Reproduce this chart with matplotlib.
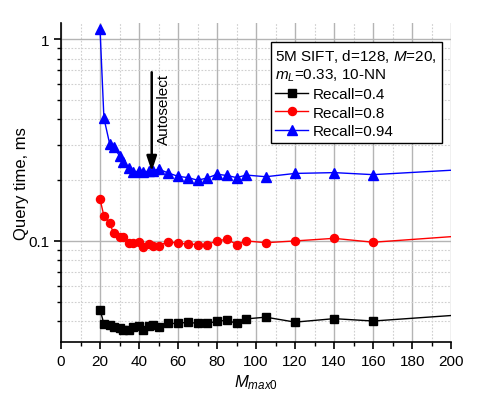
import matplotlib
matplotlib.use("Agg")
import matplotlib.pyplot as plt
from matplotlib.ticker import FixedLocator, LogLocator, NullFormatter, FuncFormatter

plt.rcParams["font.family"] = ["Liberation Sans", "DejaVu Sans"]
plt.rcParams["mathtext.fontset"] = "custom"
plt.rcParams["mathtext.rm"] = "Liberation Sans"
plt.rcParams["mathtext.it"] = "Liberation Sans:italic"

# M_max0 values (last point at 200 is drawn as line only, no marker)
m_max0 = [20, 22, 25, 27, 30, 32, 35, 37, 40, 42, 45, 47, 50, 55, 60, 65, 70, 75,
          80, 85, 90, 95, 105, 120, 140, 160, 200]

recall_04 = [0.0457, 0.0388, 0.0383, 0.0375, 0.0372, 0.0360, 0.0363, 0.0375, 0.0378,
             0.0360, 0.0378, 0.0383, 0.0375, 0.0390, 0.0390, 0.0396, 0.0390, 0.0390,
             0.0400, 0.0405, 0.0390, 0.0411, 0.0419, 0.0396, 0.0412, 0.0401, 0.0427]
recall_08 = [0.161, 0.133, 0.122, 0.109, 0.105, 0.105, 0.098, 0.098, 0.099,
             0.093, 0.0966, 0.0948, 0.0948, 0.099, 0.0975, 0.0965, 0.096, 0.096,
             0.100, 0.102, 0.096, 0.100, 0.098, 0.100, 0.103, 0.0985, 0.105]
recall_094 = [1.12, 0.406, 0.301, 0.292, 0.264, 0.245, 0.229, 0.220, 0.221,
              0.220, 0.221, 0.222, 0.227, 0.217, 0.209, 0.206, 0.200, 0.205,
              0.214, 0.211, 0.206, 0.212, 0.208, 0.216, 0.218, 0.213, 0.224]

series = [
    ("Recall=0.4", recall_04, "black", "s", 5.3),
    ("Recall=0.8", recall_08, "#ff0000", "o", 5.8),
    ("Recall=0.94", recall_094, "#0000ff", "^", 6.5),
]

autoselect_x = 46.5

fig = plt.figure(figsize=(4.92, 4.02), dpi=100)
ax = fig.add_axes([0.124, 0.147, 0.793, 0.793])

marks = list(range(len(m_max0) - 1))
for label, vals, color, marker, ms in series:
    ax.plot(m_max0, vals, color=color, marker=marker, markersize=ms, lw=1.0,
            markevery=marks, label=label)

ax.set_yscale("log")
ax.set_xlim(0, 200)
ax.set_ylim(0.0316, 1.2)

ax.xaxis.set_major_locator(FixedLocator(range(0, 201, 20)))
ax.xaxis.set_minor_locator(FixedLocator(range(10, 200, 20)))
ax.yaxis.set_major_locator(FixedLocator([0.1, 1]))
ax.yaxis.set_major_formatter(FuncFormatter(lambda v, p: "1" if v >= 1 else "0.1"))
ax.yaxis.set_minor_locator(LogLocator(base=10, subs=range(2, 10)))
ax.yaxis.set_minor_formatter(NullFormatter())

ax.grid(which="major", color="#b4b4b4", lw=1.0, ls="-")
ax.grid(which="minor", color="#cfcfcf", lw=0.8, ls=(0, (1.5, 1.5)))
ax.set_axisbelow(True)

for side in ("top", "right"):
    ax.spines[side].set_visible(False)
ax.spines["left"].set_linewidth(1.2)
ax.spines["bottom"].set_linewidth(1.2)
ax.tick_params(which="major", direction="out", length=5, width=1.2, labelsize=11)
ax.tick_params(which="minor", direction="out", length=3, width=1.0)

ax.set_xlabel("$M_{max0}$", fontsize=12, labelpad=3)
ax.set_ylabel("Query time, ms", fontsize=12, labelpad=-0.5)

ax.annotate("", xy=(autoselect_x, 0.221), xytext=(autoselect_x, 0.685),
            arrowprops=dict(arrowstyle="-|>,head_length=0.9,head_width=0.3",
                            color="black", lw=1.8, shrinkA=0, shrinkB=0))
ax.text(autoselect_x + 6.3, 0.68, "Autoselect", rotation=90, ha="center", va="top",
        fontsize=11)

leg = ax.legend(title="5M SIFT, d=128, $M$=20,\n$m_L$=0.33, 10-NN",
                loc="upper left", bbox_to_anchor=(0.538, 0.94), fontsize=11,
                title_fontsize=11, frameon=True, fancybox=False, edgecolor="black",
                framealpha=1, borderpad=0.3, handlelength=2.1, handletextpad=0.35,
                labelspacing=0.3, borderaxespad=0)
leg.get_frame().set_linewidth(1.0)
leg._legend_box.align = "left"

fig.savefig("out.png", dpi=100)
